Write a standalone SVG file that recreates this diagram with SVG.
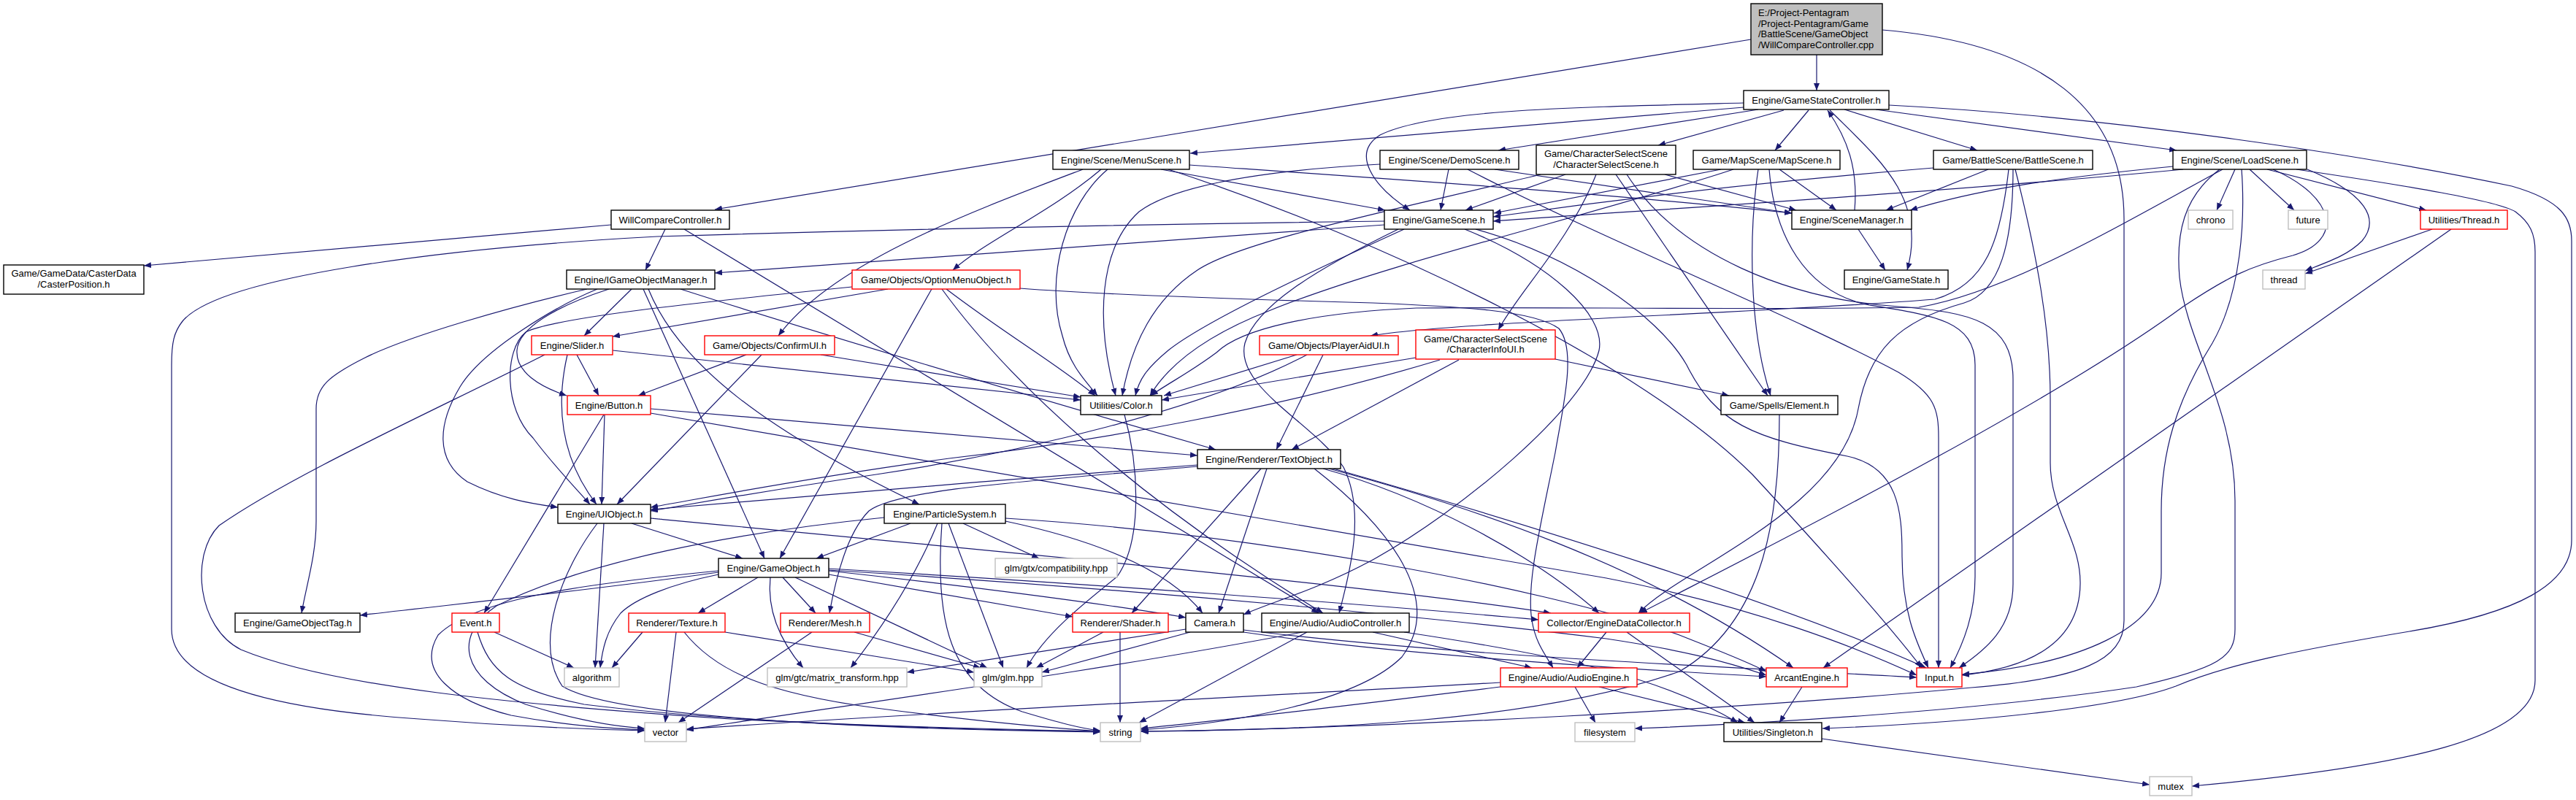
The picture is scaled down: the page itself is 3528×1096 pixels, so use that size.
<svg xmlns="http://www.w3.org/2000/svg" width="3528" height="1096" viewBox="0 0 3528 1096">
<style>
rect{fill:#fff;stroke:#000;stroke-width:1.4}
.r rect{stroke:#ff0000}
.g rect{stroke:#bfbfbf}
.root rect{fill:#bfbfbf}
text{font-family:"Liberation Sans",Arial,sans-serif;font-size:13px;text-anchor:middle;fill:#000}
.root text{text-anchor:start}
#edges path{fill:none;stroke:#191970;stroke-width:1.2;marker-end:url(#a)}
</style>
<defs><marker id="a" markerWidth="11" markerHeight="8" refX="10" refY="4" orient="auto" markerUnits="userSpaceOnUse"><path d="M0,0 L10,4 L0,8 z" fill="#191970"/></marker></defs>
<rect x="0" y="0" width="3528" height="1096" style="fill:#fff;stroke:none"/>
<g id="edges">
<path d="M2488,75 L2488,124"/>
<path d="M2398,54 L979,287"/>
<path d="M2578,41 C2800,60 2909,150 2909,300 L2909,850 C2909,905 2850,930 2700,942 C2400,970 1900,998 1563,1002"/>
<path d="M2388,147 L1630,210"/>
<path d="M2388,141 C2150,147 1960,150 1890,185 C1850,210 1880,255 1931,288"/>
<path d="M2408,150 L2052,206"/>
<path d="M2443,151 L2271,199"/>
<path d="M2477,151 L2431,206"/>
<path d="M2526,150 L2708,206"/>
<path d="M2569,150 L2981,206"/>
<path d="M2506,151 C2570,215 2640,270 2612,370"/>
<path d="M2587,144 C2900,160 3250,215 3440,255 C3510,275 3522,300 3522,330 L3522,740 C3522,800 3450,840 3300,865 C3150,890 3050,910 2980,940 C2900,970 2700,990 2496,998"/>
<path d="M2540,288 C2545,230 2530,190 2503,151"/>
<path d="M2545,314 L2582,370"/>
<path d="M1483,232 C1330,290 1140,360 1066,460"/>
<path d="M1508,232 C1440,290 1350,330 1305,370"/>
<path d="M1517,232 C1460,280 1430,380 1455,460 C1465,500 1485,520 1503,542"/>
<path d="M1590,232 L1897,288"/>
<path d="M1629,226 C1900,245 2200,265 2454,292"/>
<path d="M1600,232 C1900,330 2250,500 2400,650 C2520,780 2590,860 2632,915"/>
<path d="M1890,225 C1700,235 1600,260 1560,290 C1505,340 1500,440 1528,542"/>
<path d="M1984,232 L1973,288"/>
<path d="M2010,232 C2200,330 2450,430 2600,510 C2650,540 2655,560 2655,600 L2655,915"/>
<path d="M2047,232 L2454,292"/>
<path d="M2144,239 L2007,288"/>
<path d="M2110,239 C1900,290 1700,330 1640,370 C1580,410 1550,470 1537,542"/>
<path d="M2186,239 C2150,330 2080,400 2052,452"/>
<path d="M2213,239 L2421,542"/>
<path d="M2228,239 C2300,350 2450,410 2600,420 C2700,428 2757,440 2757,520 L2757,800 C2757,860 2720,890 2683,915"/>
<path d="M2280,239 L2460,288"/>
<path d="M2357,232 L2046,292"/>
<path d="M2374,232 C2200,290 1900,360 1740,425 C1650,460 1600,500 1575,542"/>
<path d="M2437,232 L2515,288"/>
<path d="M2408,232 C2395,320 2395,450 2425,542"/>
<path d="M2423,232 C2430,320 2470,400 2560,418 C2650,432 2705,440 2705,500 L2705,790 C2705,840 2690,880 2671,915"/>
<path d="M2648,230 C2400,250 2200,275 2045,297"/>
<path d="M2723,232 L2583,288"/>
<path d="M2751,232 C2740,330 2720,390 2650,410 C2400,430 2000,440 1877,460"/>
<path d="M2757,232 C2757,330 2740,400 2690,415 C2600,440 2560,480 2545,560 C2520,700 2300,780 2244,840"/>
<path d="M2760,232 C2790,350 2808,450 2808,546 L2808,634 C2808,700 2850,740 2849,800 C2848,880 2780,915 2687,925"/>
<path d="M2976,228 C2800,245 2700,262 2616,288"/>
<path d="M2990,232 C2700,260 2300,285 2045,303"/>
<path d="M3044,232 C2900,310 2750,400 2628,421 C2400,425 2100,420 1940,422 C1800,428 1700,450 1666,483 C1630,510 1600,525 1576,542"/>
<path d="M3040,232 C2990,270 2980,320 2985,380 C2995,470 3061,560 3061,686 L3061,862 C3061,900 3040,915 2926,941 C2700,975 2400,992 2239,998"/>
<path d="M3061,232 L3036,288"/>
<path d="M3070,232 C3075,300 3070,400 3030,470 C2980,550 2960,620 2960,700 L2960,785 C2960,860 2850,910 2687,924"/>
<path d="M3081,232 L3142,288"/>
<path d="M3113,232 C3200,270 3210,330 3140,350 C3080,365 3050,380 2990,420 C2800,560 2400,760 2246,840"/>
<path d="M3357,314 L2497,915"/>
<path d="M3105,232 L3323,288"/>
<path d="M3160,232 C3240,265 3260,300 3235,330 C3215,350 3190,358 3157,371"/>
<path d="M3145,232 C3300,255 3420,275 3445,290 C3465,305 3472,320 3472,345 L3472,932 C3472,1010 3300,1050 3002,1077"/>
<path d="M3331,314 L3157,375"/>
<path d="M837,308 L197,364"/>
<path d="M911,314 L884,370"/>
<path d="M937,314 L1806,840"/>
<path d="M1896,303 C1500,308 1100,318 900,324 C600,340 300,380 250,440 C238,455 235,470 235,500 L235,862 C235,930 350,970 574,985 C700,995 800,999 883,1001"/>
<path d="M1896,308 L979,374"/>
<path d="M1923,314 C1800,370 1650,440 1600,480 C1570,505 1560,520 1555,542"/>
<path d="M2006,314 C2120,360 2200,430 2190,480 C2170,560 2000,700 1880,767 C1800,810 1740,825 1703,842"/>
<path d="M1915,314 C1800,370 1720,420 1705,470 C1690,530 1800,580 1840,640 C1870,700 1850,780 1834,840"/>
<path d="M2021,314 C2150,350 2270,430 2310,500 C2350,580 2400,600 2530,625 C2600,640 2605,700 2605,760 C2605,840 2625,880 2641,915"/>
<path d="M2130,492 L2368,542"/>
<path d="M1939,490 L1591,548"/>
<path d="M1998,493 L1769,616"/>
<path d="M1972,493 C1750,560 1500,605 1300,628 C1100,655 950,685 891,695"/>
<path d="M1776,486 L1594,542"/>
<path d="M1812,486 L1748,616"/>
<path d="M1790,486 C1650,560 1400,620 1200,650 C1050,672 950,690 891,700"/>
<path d="M1216,396 L839,461"/>
<path d="M1167,393 C950,415 760,435 720,455 C690,480 690,560 730,600 C760,640 790,670 808,691"/>
<path d="M1276,396 L1068,765"/>
<path d="M1290,396 C1380,520 1550,680 1812,840"/>
<path d="M1296,396 C1380,460 1450,500 1500,542"/>
<path d="M1397,395 C1500,403 1700,410 1880,415 C2000,420 2100,425 2135,450 C2160,480 2140,560 2130,620 C2110,720 2090,800 2098,850 C2103,880 2115,895 2127,915"/>
<path d="M804,396 C700,420 560,460 500,490 C450,515 433,530 433,560 L433,714 C433,760 420,800 413,840"/>
<path d="M818,396 C760,420 660,480 630,530 C600,580 595,630 640,660 C690,685 730,690 764,695"/>
<path d="M834,396 C760,420 710,450 708,480 C706,510 740,530 776,542"/>
<path d="M865,396 L800,460"/>
<path d="M881,396 L1047,765"/>
<path d="M888,396 C930,500 1050,590 1259,691"/>
<path d="M932,396 C1100,450 1400,540 1665,616"/>
<path d="M790,486 L820,542"/>
<path d="M777,486 C760,560 770,630 817,691"/>
<path d="M839,480 L1480,548"/>
<path d="M746,486 C600,560 400,650 300,720 C260,760 270,860 330,890 C450,940 700,965 1000,985 C1200,995 1400,1000 1507,1002"/>
<path d="M1022,486 L874,542"/>
<path d="M1043,486 L845,691"/>
<path d="M1124,486 L1480,544"/>
<path d="M828,568 L824,691"/>
<path d="M827,568 L663,840"/>
<path d="M891,560 L1640,624"/>
<path d="M891,566 L2200,792 C2400,830 2550,890 2625,925"/>
<path d="M865,717 L1017,765"/>
<path d="M827,717 L815,915"/>
<path d="M818,717 C770,780 730,880 770,940 C850,990 1300,1000 1507,1003"/>
<path d="M891,710 C1400,758 1900,805 2124,840"/>
<path d="M984,784 C800,810 600,830 493,843"/>
<path d="M1038,791 L956,840"/>
<path d="M1072,791 L1117,840"/>
<path d="M1055,791 C1050,840 1070,880 1100,915"/>
<path d="M1089,791 L1352,915"/>
<path d="M1135,787 L1469,845"/>
<path d="M1135,782 C1300,800 1500,825 1624,846"/>
<path d="M1135,779 C1500,800 1900,830 2107,849"/>
<path d="M1135,781 C1600,810 2000,850 2200,875 C2300,890 2360,905 2419,925"/>
<path d="M984,782 C800,800 650,820 600,870 C570,920 620,960 700,980 C780,995 840,998 883,1000"/>
<path d="M1211,709 C1000,730 800,770 680,830 C620,870 630,930 720,965 C800,990 850,996 883,998"/>
<path d="M984,787 C920,800 870,820 850,840 C830,865 825,890 822,915"/>
<path d="M1247,717 L1118,765"/>
<path d="M1284,717 C1250,800 1200,870 1165,915"/>
<path d="M1290,717 C1280,850 1300,940 1400,975 C1450,990 1480,998 1507,1001"/>
<path d="M1299,717 L1374,915"/>
<path d="M1319,717 L1423,765"/>
<path d="M1377,714 C1500,740 1600,780 1647,840"/>
<path d="M1377,710 C1700,730 2100,800 2300,870 C2350,890 2390,905 2419,920"/>
<path d="M1640,637 C1400,655 1100,680 891,698"/>
<path d="M1727,642 L1550,840"/>
<path d="M1735,642 L1669,840"/>
<path d="M1640,639 C1400,660 1230,670 1190,700 C1160,730 1145,790 1136,840"/>
<path d="M1800,642 C1900,720 1980,820 1920,900 C1860,960 1700,990 1562,1000"/>
<path d="M1812,642 C1950,680 2100,760 2190,840"/>
<path d="M1820,642 C2000,690 2250,770 2456,915"/>
<path d="M1826,642 C2100,720 2450,830 2638,915"/>
<path d="M1630,866 L1427,921"/>
<path d="M1624,862 L1242,921"/>
<path d="M1703,866 C1900,895 2200,915 2419,927"/>
<path d="M1703,863 C2000,900 2400,915 2625,928"/>
<path d="M1511,866 L1419,915"/>
<path d="M1534,866 L1534,990"/>
<path d="M1112,866 L929,990"/>
<path d="M1170,866 L1343,915"/>
<path d="M993,866 L1334,921"/>
<path d="M926,866 L911,990"/>
<path d="M937,866 C980,920 1050,950 1200,970 C1350,990 1450,998 1507,1002"/>
<path d="M880,866 L838,915"/>
<path d="M677,866 L786,915"/>
<path d="M654,866 C670,920 700,945 800,965 C1000,990 1300,1000 1507,1002"/>
<path d="M1784,866 C1500,920 1200,960 940,1000"/>
<path d="M1790,866 L1560,990"/>
<path d="M1880,866 L2098,915"/>
<path d="M1923,866 C2150,900 2280,930 2380,990"/>
<path d="M2200,866 L2160,915"/>
<path d="M2228,866 L2403,990"/>
<path d="M2055,935 C1700,955 1200,980 940,999"/>
<path d="M2055,941 C1900,960 1700,985 1562,998"/>
<path d="M2157,941 L2185,990"/>
<path d="M2190,941 L2390,990"/>
<path d="M2468,941 L2437,990"/>
<path d="M2437,568 C2437,700 2420,850 2300,920 C2100,990 1800,1000 1562,1002"/>
<path d="M2495,1012 L2944,1075"/>
<path d="M1540,568 C1560,640 1565,740 1530,790 C1480,830 1430,870 1406,915"/>
</g>
<g id="n_root" class="root"><rect x="2398" y="5" width="180" height="70"/><text x="2408" y="22">E:/Project-Pentagram</text><text x="2408" y="37">/Project-Pentagram/Game</text><text x="2408" y="51">/BattleScene/GameObject</text><text x="2408" y="66">/WillCompareController.cpp</text></g>
<g id="n_gsc"><rect x="2388" y="124" width="199" height="26"/><text x="2487.5" y="141.5">Engine/GameStateController.h</text></g>
<g id="n_menuscene"><rect x="1442" y="206" width="187" height="26"/><text x="1535.5" y="223.5">Engine/Scene/MenuScene.h</text></g>
<g id="n_demoscene"><rect x="1890" y="206" width="190" height="26"/><text x="1985" y="223.5">Engine/Scene/DemoScene.h</text></g>
<g id="n_charselscene"><rect x="2104" y="199" width="191" height="40"/><text x="2199.5" y="215">Game/CharacterSelectScene</text><text x="2199.5" y="230">/CharacterSelectScene.h</text></g>
<g id="n_mapscene"><rect x="2319" y="206" width="201" height="26"/><text x="2419.5" y="223.5">Game/MapScene/MapScene.h</text></g>
<g id="n_battlescene"><rect x="2648" y="206" width="218" height="26"/><text x="2757" y="223.5">Game/BattleScene/BattleScene.h</text></g>
<g id="n_loadscene"><rect x="2976" y="206" width="183" height="26"/><text x="3067.5" y="223.5">Engine/Scene/LoadScene.h</text></g>
<g id="n_willcompare"><rect x="837" y="288" width="162" height="26"/><text x="918" y="305.5">WillCompareController.h</text></g>
<g id="n_gamescene"><rect x="1896" y="288" width="149" height="26"/><text x="1970.5" y="305.5">Engine/GameScene.h</text></g>
<g id="n_scenemanager"><rect x="2454" y="288" width="164" height="26"/><text x="2536" y="305.5">Engine/SceneManager.h</text></g>
<g id="n_chrono" class="g"><rect x="2997" y="288" width="61" height="26"/><text x="3027.5" y="305.5">chrono</text></g>
<g id="n_future" class="g"><rect x="3134" y="288" width="54" height="26"/><text x="3161" y="305.5">future</text></g>
<g id="n_threadh" class="r"><rect x="3315" y="288" width="119" height="26"/><text x="3374.5" y="305.5">Utilities/Thread.h</text></g>
<g id="n_casterposition"><rect x="5" y="363" width="192" height="40"/><text x="101" y="379">Game/GameData/CasterData</text><text x="101" y="394">/CasterPosition.h</text></g>
<g id="n_igom"><rect x="776" y="370" width="203" height="26"/><text x="877.5" y="387.5">Engine/IGameObjectManager.h</text></g>
<g id="n_optionmenu" class="r"><rect x="1167" y="370" width="230" height="26"/><text x="1282" y="387.5">Game/Objects/OptionMenuObject.h</text></g>
<g id="n_gamestate"><rect x="2526" y="370" width="142" height="26"/><text x="2597" y="387.5">Engine/GameState.h</text></g>
<g id="n_thread" class="g"><rect x="3099" y="370" width="58" height="26"/><text x="3128" y="387.5">thread</text></g>
<g id="n_slider" class="r"><rect x="728" y="460" width="111" height="26"/><text x="783.5" y="477.5">Engine/Slider.h</text></g>
<g id="n_confirmui" class="r"><rect x="965" y="460" width="178" height="26"/><text x="1054" y="477.5">Game/Objects/ConfirmUI.h</text></g>
<g id="n_playeraidui" class="r"><rect x="1725" y="460" width="190" height="26"/><text x="1820" y="477.5">Game/Objects/PlayerAidUI.h</text></g>
<g id="n_charinfoui" class="r"><rect x="1939" y="452" width="191" height="40"/><text x="2034.5" y="468.5">Game/CharacterSelectScene</text><text x="2034.5" y="483">/CharacterInfoUI.h</text></g>
<g id="n_button" class="r"><rect x="777" y="542" width="114" height="26"/><text x="834" y="559.5">Engine/Button.h</text></g>
<g id="n_color"><rect x="1480" y="542" width="111" height="26"/><text x="1535.5" y="559.5">Utilities/Color.h</text></g>
<g id="n_element"><rect x="2357" y="542" width="160" height="26"/><text x="2437" y="559.5">Game/Spells/Element.h</text></g>
<g id="n_textobject"><rect x="1640" y="616" width="196" height="26"/><text x="1738" y="633.5">Engine/Renderer/TextObject.h</text></g>
<g id="n_uiobject"><rect x="764" y="691" width="127" height="26"/><text x="827.5" y="708.5">Engine/UIObject.h</text></g>
<g id="n_particlesystem"><rect x="1211" y="691" width="166" height="26"/><text x="1294" y="708.5">Engine/ParticleSystem.h</text></g>
<g id="n_gameobject"><rect x="984" y="765" width="151" height="26"/><text x="1059.5" y="782.5">Engine/GameObject.h</text></g>
<g id="n_compat" class="g"><rect x="1363" y="765" width="167" height="26"/><text x="1446.5" y="782.5">glm/gtx/compatibility.hpp</text></g>
<g id="n_gameobjecttag"><rect x="322" y="840" width="171" height="26"/><text x="407.5" y="857.5">Engine/GameObjectTag.h</text></g>
<g id="n_event" class="r"><rect x="619" y="840" width="65" height="26"/><text x="651.5" y="857.5">Event.h</text></g>
<g id="n_texture" class="r"><rect x="861" y="840" width="132" height="26"/><text x="927" y="857.5">Renderer/Texture.h</text></g>
<g id="n_mesh" class="r"><rect x="1069" y="840" width="122" height="26"/><text x="1130" y="857.5">Renderer/Mesh.h</text></g>
<g id="n_shader" class="r"><rect x="1469" y="840" width="131" height="26"/><text x="1534.5" y="857.5">Renderer/Shader.h</text></g>
<g id="n_camera"><rect x="1624" y="840" width="79" height="26"/><text x="1663.5" y="857.5">Camera.h</text></g>
<g id="n_audiocontroller"><rect x="1728" y="840" width="202" height="26"/><text x="1829" y="857.5">Engine/Audio/AudioController.h</text></g>
<g id="n_edc" class="r"><rect x="2107" y="840" width="207" height="26"/><text x="2210.5" y="857.5">Collector/EngineDataCollector.h</text></g>
<g id="n_algorithm" class="g"><rect x="773" y="915" width="75" height="26"/><text x="810.5" y="932.5">algorithm</text></g>
<g id="n_matrix" class="g"><rect x="1051" y="915" width="191" height="26"/><text x="1146.5" y="932.5">glm/gtc/matrix_transform.hpp</text></g>
<g id="n_glm" class="g"><rect x="1334" y="915" width="93" height="26"/><text x="1380.5" y="932.5">glm/glm.hpp</text></g>
<g id="n_audioengine" class="r"><rect x="2055" y="915" width="187" height="26"/><text x="2148.5" y="932.5">Engine/Audio/AudioEngine.h</text></g>
<g id="n_arcantengine" class="r"><rect x="2419" y="915" width="111" height="26"/><text x="2474.5" y="932.5">ArcantEngine.h</text></g>
<g id="n_input" class="r"><rect x="2625" y="915" width="62" height="26"/><text x="2656" y="932.5">Input.h</text></g>
<g id="n_vector" class="g"><rect x="883" y="990" width="57" height="26"/><text x="911.5" y="1007.5">vector</text></g>
<g id="n_string" class="g"><rect x="1507" y="990" width="55" height="26"/><text x="1534.5" y="1007.5">string</text></g>
<g id="n_filesystem" class="g"><rect x="2157" y="990" width="82" height="26"/><text x="2198" y="1007.5">filesystem</text></g>
<g id="n_singleton"><rect x="2361" y="990" width="134" height="26"/><text x="2428" y="1007.5">Utilities/Singleton.h</text></g>
<g id="n_mutex" class="g"><rect x="2944" y="1064" width="58" height="26"/><text x="2973" y="1081.5">mutex</text></g>
</svg>
